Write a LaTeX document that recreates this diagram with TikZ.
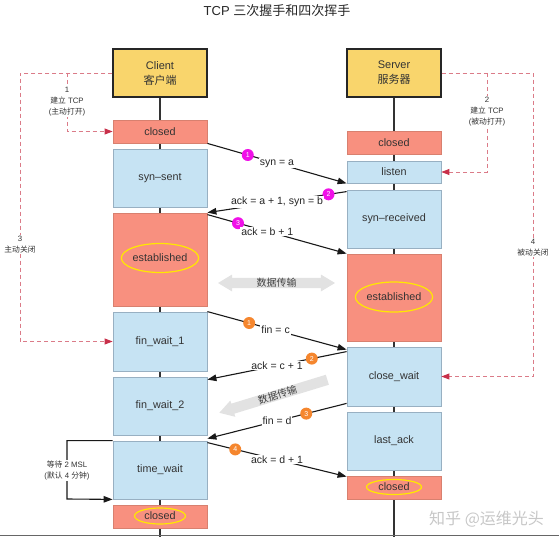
\documentclass[tikz,border=0pt]{standalone}
\usepackage{fontspec}
\setmainfont{Liberation Sans}
\newfontfamily\cjk{Noto Sans CJK SC}
\usetikzlibrary{arrows.meta,shapes.arrows,shapes.geometric,calc,backgrounds}
\definecolor{cyellow}{HTML}{F9D56C}
\definecolor{cred}{HTML}{F8907F}
\definecolor{credb}{HTML}{D8806F}
\definecolor{cblue}{HTML}{C6E3F3}
\definecolor{cblueb}{HTML}{98B0C2}
\definecolor{cdash}{HTML}{DB7B88}
\definecolor{cdashtip}{HTML}{C8304A}
\definecolor{cmag}{HTML}{F010E8}
\definecolor{corange}{HTML}{F5862E}
\definecolor{cgray}{HTML}{E2E2E2}
\definecolor{ctext}{HTML}{333333}
\definecolor{cellip}{HTML}{FFE800}
\begin{document}
\begin{tikzpicture}[x=1pt,y=-1pt,
  box/.style={draw, line width=0.8pt, minimum width=94pt, inner sep=0pt, text=ctext, font=\fontsize{10.8}{12}\selectfont},
  redbox/.style={box, fill=cred, draw=credb},
  bluebox/.style={box, fill=cblue, draw=cblueb},
  headbox/.style={box, fill=cyellow, draw=black!85, line width=1.1pt, align=center, font=\fontsize{11}{15}\selectfont, minimum height=48pt},
  oval/.style={ellipse, draw=cellip, line width=1.2pt, inner sep=0pt, text=ctext, font=\fontsize{10.8}{12}\selectfont},
  vline/.style={draw=black!80, line width=1.2pt},
  msg/.style={draw=black!90, line width=1.1pt, -{Triangle[length=9pt,width=6.5pt]}},
  lbl/.style={fill=white, inner sep=1pt, text=black!85, font=\fontsize{10.5}{12}\selectfont},
  num/.style={circle, inner sep=0pt, minimum size=12pt, text=white, font=\fontsize{7}{7}\selectfont},
  magnum/.style={num, fill=cmag},
  ornum/.style={num, fill=corange},
  dashl/.style={draw=cdash, line width=0.9pt, dash pattern=on 4pt off 3pt},
  dtip/.style={-{Triangle[length=8pt,width=6pt,color=cdashtip]}},
  small/.style={fill=white, inner sep=1pt, align=center, text=ctext, font=\fontsize{7.8}{11}\selectfont},
  datarrow/.style={fill=cgray, inner sep=0pt, text=black!75, font=\cjk\fontsize{10}{12}\selectfont}
]
\useasboundingbox (0,0) rectangle (559,537);

% title
\node[text=black!85, font=\fontsize{13}{15}\selectfont] (title) at (277,11) {TCP {\cjk 三次握手和四次挥手}};

% client column
\node[headbox] (client) at (160,73) {Client\\{\cjk 客户端}};
\node[redbox, minimum height=23pt] (cclosed) at (160,131.5) {closed};
\node[bluebox, minimum height=58pt] (synsent) at (160,178) {syn–sent};
\node[redbox, minimum height=93pt] (cest) at (160,259.5) {};
\node[oval, minimum width=76pt, minimum height=29pt] (cestl) at (160,258) {established};
\node[bluebox, minimum height=59pt] (fw1) at (160,341.5) {fin\_wait\_1};
\node[bluebox, minimum height=58pt] (fw2) at (160,406) {fin\_wait\_2};
\node[bluebox, minimum height=58pt] (tw) at (160,470) {time\_wait};
\node[redbox, minimum height=23pt] (cclosed2) at (160,516.5) {};
\node[oval, minimum width=51pt, minimum height=16pt] (cclosed2l) at (160,516) {closed};

% server column
\node[headbox] (server) at (394,73) {Server\\{\cjk 服务器}};
\node[redbox, minimum height=23pt] (sclosed) at (394,142.5) {closed};
\node[bluebox, minimum height=22pt] (listen) at (394,172) {listen};
\node[bluebox, minimum height=58pt] (syr) at (394,219) {syn–received};
\node[redbox, minimum height=87pt] (sest) at (394,297.5) {};
\node[oval, minimum width=69pt, minimum height=30pt] (sestl) at (394,297) {established};
\node[bluebox, minimum height=59pt] (cw) at (394,376.5) {close\_wait};
\node[bluebox, minimum height=58pt] (la) at (394,441) {last\_ack};
\node[redbox, minimum height=23pt] (sclosed2) at (394,487.5) {};
\node[oval, minimum width=55pt, minimum height=15pt] (sclosed2l) at (394,487) {closed};

% watermark
\node[anchor=west, inner sep=0pt, text=black!22, font=\cjk\fontsize{16}{18}\selectfont] (wm) at (429,519) {知乎 @运维光头};

% bottom line
\coordinate (bl) at (0,535.8);
\coordinate (br) at (559,535.8);
\draw[draw=black!60, line width=1.2pt] (bl) -- (br);

% vertical life lines
\coordinate (cbot) at (160,537);
\coordinate (sbot) at (394,537);
\begin{scope}[on background layer]
  \draw[vline] (client.south) -- (cbot);
  \draw[vline] (server.south) -- (sbot);
\end{scope}

% dashed paths left
\coordinate (lo) at (20,341.5);
\coordinate (li) at (67,73);
\draw[dashl, dtip] (client.west) -| (lo) -- (fw1.west);
\draw[dashl, dtip] (li) |- (cclosed.west);
\node[small] (l1) at (67,102) {1\\{\cjk 建立} TCP\\({\cjk 主动打开})};
\node[small] (l3) at (20,244.5) {3\\{\cjk 主动关闭}};

% dashed paths right
\coordinate (ro) at (533,376.5);
\coordinate (ri) at (487,73);
\draw[dashl, dtip] (server.east) -| (ro) -- (cw.east);
\draw[dashl, dtip] (ri) |- (listen.east);
\node[small] (l2) at (487,112) {2\\{\cjk 建立} TCP\\({\cjk 被动打开})};
\node[small] (l4) at (533,248) {4\\{\cjk 被动关闭}};

% data transfer arrows
\node[datarrow, double arrow, double arrow head extend=3pt, double arrow tip angle=62, minimum width=17pt, minimum height=117pt] (dt1) at (276.5,283) {数据传输};
\node[datarrow, single arrow, single arrow head extend=3pt, single arrow tip angle=62, shape border rotate=180, rotate=17, minimum width=17pt, minimum height=113pt] (dt2) at (277.5,395) {数据传输};

% messages
\draw[msg] (cclosed.south east) -- (listen.south west)
  node[pos=0.29, magnum] (n1) {1} node[pos=0.5, lbl] (t1) {syn = a};
\draw[msg] ($(syr.north west)+(0,2)$) -- (cest.north east)
  node[pos=0.13, magnum] (n2) {2} node[pos=0.5, lbl] (t2) {ack = a + 1, syn = b};
\draw[msg] ($(cest.north east)+(0,2)$) -- (sest.north west)
  node[pos=0.22, magnum] (n3) {3} node[pos=0.43, lbl] (t3) {ack = b + 1};
\draw[msg] (fw1.north east) -- ($(cw.north west)+(0,3)$)
  node[pos=0.3, ornum] (o1) {1} node[pos=0.49, lbl] (u1) {fin = c};
\draw[msg] ($(cw.north west)+(0,5)$) -- ($(fw2.north east)+(0,3)$)
  node[pos=0.25, ornum] (o2) {2} node[pos=0.5, lbl] (u2) {ack = c + 1};
\draw[msg] ($(cw.south west)+(0,-3)$) -- ($(tw.north east)+(0,-2)$)
  node[pos=0.29, ornum] (o3) {3} node[pos=0.5, lbl] (u3) {fin = d};
\draw[msg] ($(tw.north east)+(0,2)$) -- ($(sclosed2.north west)+(0,1)$)
  node[pos=0.2, ornum] (o4) {4} node[pos=0.5, lbl] (u4) {ack = d + 1};

% time wait loop
\coordinate (tl) at (67,499);
\draw[msg] (tw.north west) -| (tl) -- (tw.south west);
\node[small] (l5) at (67,470.5) {{\cjk 等待} 2 MSL\\({\cjk 默认} 4 {\cjk 分钟})};
\end{tikzpicture}
\end{document}
